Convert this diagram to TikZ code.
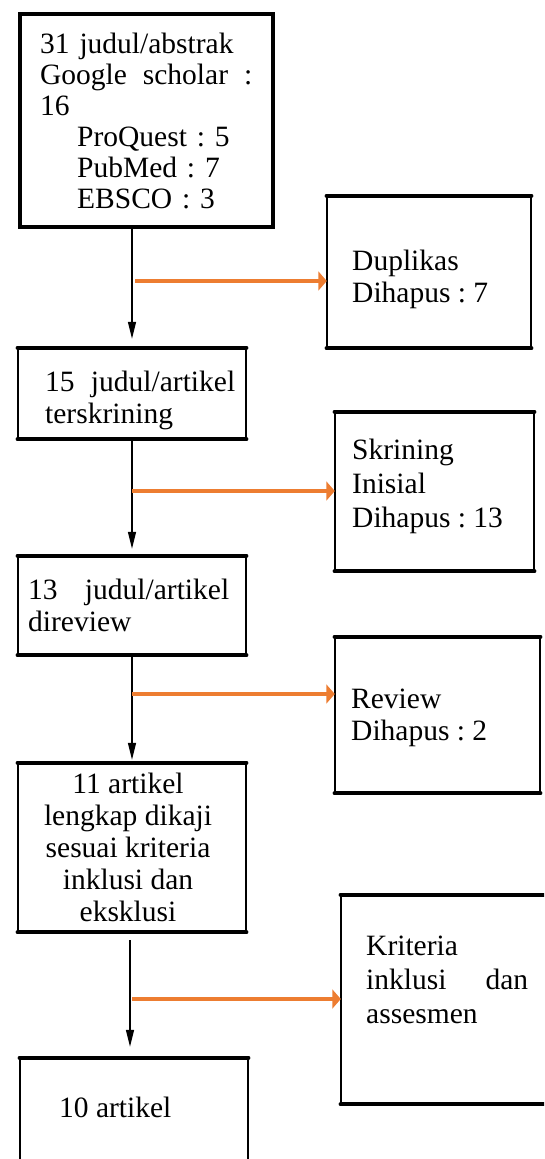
\documentclass[tikz,border=0pt]{standalone}
\usepackage{fontspec}
\setmainfont{Liberation Serif}
\usetikzlibrary{arrows.meta}
\definecolor{exclorange}{HTML}{ED7D31}
\frenchspacing
% thin sides, heavy top and bottom rules
\newcommand\tbframe[1]{%
  \draw[sideline] (#1.north west) -- (#1.south west) (#1.north east) -- (#1.south east);
  \draw[barline] (#1.north west) -- (#1.north east) (#1.south west) -- (#1.south east);}
\begin{document}
\begin{tikzpicture}[x=1pt,y=-1pt,
  boxarea/.style={rectangle, inner sep=0pt, draw=none},
  sideline/.style={line width=2pt},
  barline/.style={line width=4.5pt, line cap=round},
  txt/.style={inner sep=0pt, anchor=west, align=left, font=\fontsize{29.5}{32}\selectfont},
  flow/.style={line width=1.5pt, -{Triangle[length=17pt,width=8pt]}},
  excl/.style={draw=exclorange, line width=4pt, -{Triangle[length=8.5pt,width=19pt]}}]
\useasboundingbox (0,0) rectangle (544,1159);
\clip (0,0) rectangle (544,1159);

% main column
\node[boxarea, minimum width=253pt, minimum height=213pt] (b1) at (146.5,120.5) {};
\draw[line width=4pt] (b1.north west) rectangle (b1.south east);
\node[txt, text width=212pt, font=\fontsize{29.5}{31}\selectfont] (b1t) at (40,125)
  {\strut 31 judul/abstrak\\\makebox[212pt]{Google\hfill scholar\hfill :}\\16\\
   \hspace*{37pt}ProQuest : 5\\\hspace*{37pt}PubMed : 7\\\hspace*{37pt}EBSCO : 3\strut};

\node[boxarea, minimum width=228pt, minimum height=91pt] (b2) at (132,393.5) {};
\tbframe{b2}
\node[txt, text width=190pt] (b2t) at (45,401)
  {\strut\makebox[190pt]{15\hfill judul/artikel}\\terskrining\strut};

\node[boxarea, minimum width=228pt, minimum height=99pt] (b3) at (132,605.5) {};
\tbframe{b3}
\node[txt, text width=201pt] (b3t) at (28,609)
  {\strut\makebox[201pt]{13\hfill judul/artikel}\\direview\strut};

\node[boxarea, minimum width=228pt, minimum height=169pt] (b4) at (132,847.5) {};
\tbframe{b4}
\node[txt, anchor=center, align=center] (b4t) at (128,851)
  {\strut 11 artikel\\lengkap dikaji\\sesuai kriteria\\inklusi dan\\eksklusi\strut};

\node[boxarea, minimum width=228pt, minimum height=117pt] (b5) at (134,1116.5) {};
\tbframe{b5}
\node[txt] (b5t) at (59,1111) {\strut 10 artikel\strut};

% excluded records
\node[boxarea, minimum width=204pt, minimum height=152pt] (d1) at (429,272) {};
\tbframe{d1}
\node[txt] (d1t) at (352,280) {\strut Duplikas\\Dihapus : 7\strut};

\node[boxarea, minimum width=199pt, minimum height=159pt] (d2) at (434.5,491.5) {};
\tbframe{d2}
\node[txt, font=\fontsize{29.5}{34}\selectfont] (d2t) at (352,487)
  {\strut Skrining\\Inisial\\Dihapus : 13\strut};

\node[boxarea, minimum width=205pt, minimum height=156pt] (d3) at (437.5,715) {};
\tbframe{d3}
\node[txt] (d3t) at (351,718) {\strut Review\\Dihapus : 2\strut};

\node[boxarea, minimum width=219pt, minimum height=209pt] (d4) at (450.5,999.5) {};
\tbframe{d4}
\node[txt, text width=162pt, font=\fontsize{29.5}{34}\selectfont] (d4t) at (366,983)
  {\strut Kriteria\\\makebox[162pt]{inklusi\hfill dan}\\assesmen\strut};

% flow down the column
\draw[flow, shorten >=9pt] (b1.south -| b2.north) -- (b2.north);
\draw[flow, shorten >=7pt] (b2.south) -- (b3.north);
\draw[flow, shorten >=3pt] (b3.south) -- (b4.north);
\draw[flow, shorten <=8pt, shorten >=11pt] ([xshift=-2pt]b4.south) -- ([xshift=-2pt]b4.south |- b5.north);

% branches to the excluded boxes
\coordinate (j1) at (135,281);
\coordinate (j2) at (132,491);
\coordinate (j3) at (132,694);
\coordinate (j4) at (132,999);
\draw[excl] (j1) -- (j1 -| d1.west);
\draw[excl] (j2) -- (j2 -| d2.west);
\draw[excl] (j3) -- (j3 -| d3.west);
\draw[excl] (j4) -- (j4 -| d4.west);
\end{tikzpicture}
\end{document}
